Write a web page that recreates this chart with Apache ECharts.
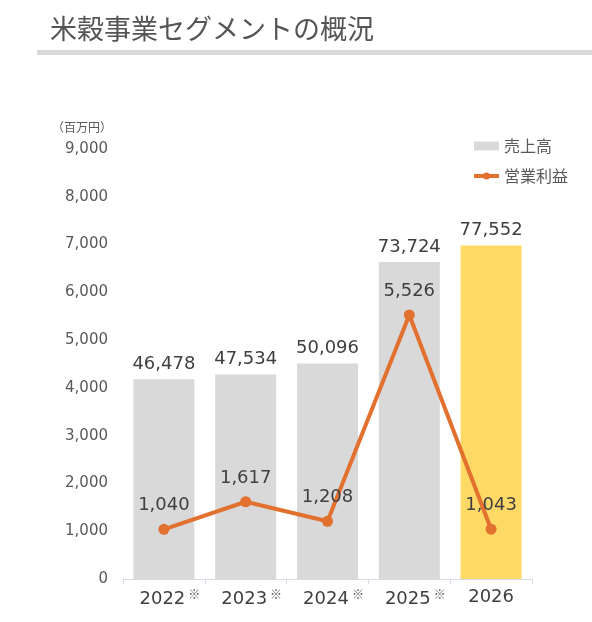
<!DOCTYPE html>
<html lang="ja">
<head>
    <meta charset="UTF-8">
    <title>米穀事業セグメントの概況</title>
    <script src="https://cdn.jsdelivr.net/npm/echarts@6/dist/echarts.min.js"></script>
    <style>
        html, body { margin: 0; padding: 0; background: #fff; }
        #chart { width: 592px; height: 622px; }
    </style>
</head>
<body>
<div id="chart"></div>
<script>
    // 年度
    var years = ['2022', '2023', '2024', '2025', '2026'];
    // ※付きの年度
    var noted = [true, true, true, true, false];
    // 売上高（百万円）
    var sales = [46478, 47534, 50096, 73724, 77552];
    // 営業利益（百万円）
    var profit = [1040, 1617, 1208, 5526, 1043];

    var FONT = '"Noto Sans CJK JP", "Noto Sans", sans-serif';
    var NUM = '"DejaVu Sans", "Noto Sans CJK JP", sans-serif';
    var chart = echarts.init(document.getElementById('chart'));

    var barData = sales.map(function (v, i) {
        return {
            value: v,
            itemStyle: { color: i === sales.length - 1 ? '#FFD966' : '#D9D9D9' }
        };
    });

    function fmt(p) { return p.value.toLocaleString('en-US'); }

    chart.setOption({
        backgroundColor: '#FFFFFF',
        textStyle: { fontFamily: FONT },
        title: {
            text: '米穀事業セグメントの概況',
            left: 45,
            top: 10,
            textStyle: { fontSize: 27, fontWeight: 'normal', color: '#555555', fontFamily: FONT }
        },
        graphic: [
            {
                type: 'rect',
                shape: { x: 37, y: 50, width: 555, height: 5 },
                style: { fill: '#D9D9D9' }
            },
            {
                type: 'text',
                left: 52,
                top: 121,
                style: { text: '（百万円）', fontSize: 12, fill: '#595959', fontFamily: FONT }
            }
        ],
        legend: {
            orient: 'vertical',
            left: 472,
            top: 138,
            padding: 0,
            itemGap: 14,
            itemWidth: 25,
            itemHeight: 9,
            textStyle: { fontSize: 16, color: '#595959', fontFamily: FONT },
            data: [
                { name: '売上高', icon: 'rect', itemStyle: { color: '#D9D9D9' } },
                { name: '営業利益', lineStyle: { width: 4 } }
            ]
        },
        grid: { left: 123, right: 60, top: 149, bottom: 43 },
        xAxis: {
            type: 'category',
            data: years,
            axisLine: { lineStyle: { color: '#D6DCE5', width: 1 } },
            axisTick: { show: true, alignWithLabel: false, length: 5, lineStyle: { color: '#D6DCE5' } },
            axisLabel: {
                interval: 0,
                margin: 9,
                formatter: function (v, i) {
                    return noted[i] ? '{n|' + v + '}{s|※}' : v;
                },
                fontSize: 18,
                color: '#404040',
                fontFamily: NUM,
                rich: {
                    n: { fontSize: 18, color: '#404040', fontFamily: NUM, padding: [0, 0, 0, 12] },
                    s: { fontSize: 12, color: '#595959', fontFamily: FONT, verticalAlign: 'top', padding: [0, 0, 10, 3] }
                }
            }
        },
        yAxis: [
            {
                type: 'value',
                min: 0,
                max: 9000,
                interval: 1000,
                splitLine: { show: false },
                axisLine: { show: false },
                axisTick: { show: false },
                axisLabel: {
                    margin: 15,
                    fontSize: 15,
                    color: '#595959',
                    fontFamily: NUM,
                    formatter: function (v) { return v.toLocaleString('en-US'); }
                }
            },
            {
                type: 'value',
                min: 0,
                max: 100000,
                show: false,
                splitLine: { show: false }
            }
        ],
        series: [
            {
                name: '売上高',
                type: 'bar',
                yAxisIndex: 1,
                barWidth: 61,
                itemStyle: { color: '#D9D9D9' },
                label: {
                    show: true,
                    position: 'top',
                    distance: 6,
                    fontSize: 18,
                    color: '#404040',
                    fontFamily: NUM,
                    formatter: fmt
                },
                data: barData
            },
            {
                name: '営業利益',
                type: 'line',
                yAxisIndex: 0,
                symbol: 'circle',
                symbolSize: 11,
                lineStyle: { color: '#E2702F', width: 4 },
                itemStyle: { color: '#E2702F' },
                label: {
                    show: true,
                    position: 'top',
                    distance: 9,
                    fontSize: 18,
                    color: '#404040',
                    fontFamily: NUM,
                    formatter: fmt
                },
                z: 5,
                data: profit
            }
        ]
    });
</script>
</body>
</html>
